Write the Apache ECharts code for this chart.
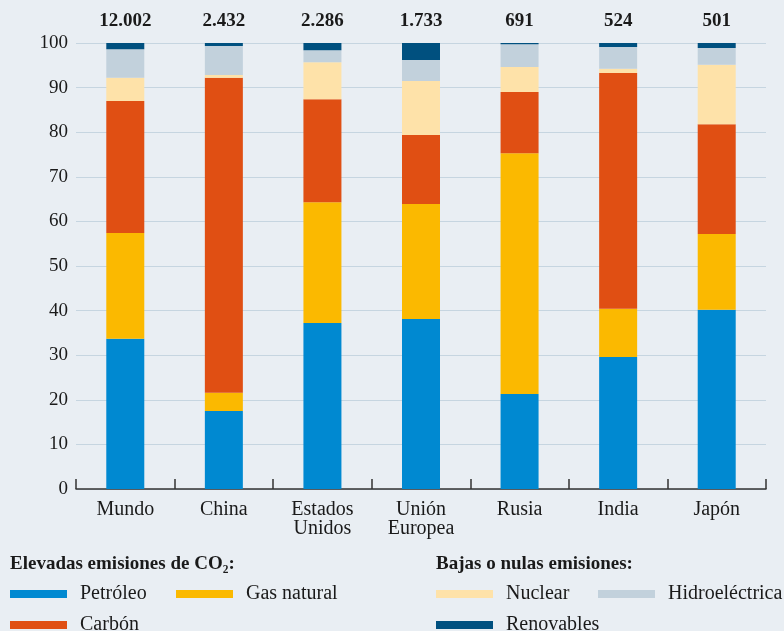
<!DOCTYPE html>
<html>
<head>
<meta charset="utf-8">
<script src="https://cdn.jsdelivr.net/npm/echarts@6/dist/echarts.min.js"></script>
<style>
html,body{margin:0;padding:0;background:#e9eef3;}
#chart{width:784px;height:631px;}
</style>
</head>
<body>
<div id="chart"></div>
<script>
const categories = ['Mundo', 'China', 'Estados\nUnidos', 'Unión\nEuropea', 'Rusia', 'India', 'Japón'];
const totals = ['12.002', '2.432', '2.286', '1.733', '691', '524', '501'];
const petroleo = [33.7, 17.5, 37.2, 38.1, 21.3, 29.6, 40.2];
const gasNatural = [23.7, 4.1, 27.1, 25.8, 54.0, 10.8, 17.0];
const carbon = [29.6, 70.6, 23.1, 15.5, 13.7, 52.9, 24.6];
const nuclear = [5.2, 0.6, 8.3, 12.1, 5.6, 0.9, 13.3];
const hidro = [6.4, 6.5, 2.7, 4.7, 5.1, 4.9, 3.8];
const renovables = [1.4, 0.7, 1.6, 3.8, 0.3, 0.9, 1.1];
const yTicks = [0, 10, 20, 30, 40, 50, 60, 70, 80, 90, 100];

const FONT = 'Liberation Serif';
const colors = {
  'Petróleo': '#0089d1',
  'Gas natural': '#fbb900',
  'Carbón': '#e04f13',
  'Nuclear': '#fee2a9',
  'Hidroeléctrica': '#c2d1dc',
  'Renovables': '#00507f'
};
const seriesDefs = [
  ['Petróleo', petroleo],
  ['Gas natural', gasNatural],
  ['Carbón', carbon],
  ['Nuclear', nuclear],
  ['Hidroeléctrica', hidro],
  ['Renovables', renovables]
];

const chart = echarts.init(document.getElementById('chart'), null, {renderer: 'canvas'});

const series = seriesDefs.map(([name, data], i) => {
  const s = {
    name: name,
    type: 'bar',
    stack: 'total',
    barWidth: 38,
    data: data,
    itemStyle: {color: colors[name]},
    emphasis: {disabled: true},
    animation: false
  };
  if (i === seriesDefs.length - 1) {
    s.label = {
      show: true,
      position: 'top',
      distance: 12,
      formatter: p => totals[p.dataIndex],
      fontFamily: FONT,
      fontWeight: 'bold',
      fontSize: 19,
      color: '#1a1a1a'
    };
  }
  return s;
});

function legendItem(name, left, top) {
  return {
    data: [name],
    left: left,
    top: top,
    orient: 'horizontal',
    padding: 0,
    icon: 'rect',
    itemWidth: 57,
    itemHeight: 8,
    selectedMode: false,
    textStyle: {
      fontFamily: FONT,
      fontSize: 20,
      color: '#1a1a1a',
      lineHeight: 20,
      padding: [0, 0, 0, 8]
    }
  };
}

const option = {
  backgroundColor: '#e9eef3',
  animation: false,
  textStyle: {fontFamily: FONT},
  title: [
    {
      text: 'Elevadas emisiones de CO₂:',
      left: 10, top: 555, padding: 0,
      textStyle: {fontFamily: FONT, fontWeight: 'bold', fontSize: 19, color: '#1a1a1a'}
    },
    {
      text: 'Bajas o nulas emisiones:',
      left: 436, top: 555, padding: 0,
      textStyle: {fontFamily: FONT, fontWeight: 'bold', fontSize: 19, color: '#1a1a1a'}
    }
  ],
  legend: [
    legendItem('Petróleo', 10, 584),
    legendItem('Gas natural', 176, 584),
    legendItem('Carbón', 10, 615),
    legendItem('Nuclear', 436, 584),
    legendItem('Hidroeléctrica', 598, 584),
    legendItem('Renovables', 436, 615)
  ],
  grid: {left: 76, right: 18, top: 43, bottom: 142, containLabel: false},
  xAxis: {
    type: 'category',
    data: categories,
    axisLine: {show: true, lineStyle: {color: '#333333', width: 1.5}},
    axisTick: {show: true, inside: true, length: 10, lineStyle: {color: '#333333', width: 1.5}},
    axisLabel: {fontFamily: FONT, fontSize: 20, color: '#1a1a1a', margin: 11, lineHeight: 19, interval: 0}
  },
  yAxis: {
    type: 'value',
    min: yTicks[0],
    max: yTicks[yTicks.length - 1],
    interval: yTicks[1] - yTicks[0],
    axisLine: {show: false},
    axisTick: {show: false},
    axisLabel: {fontFamily: FONT, fontSize: 19, color: '#1a1a1a', margin: 8},
    splitLine: {show: true, lineStyle: {color: '#c6d5e0', width: 1.2}}
  },
  series: series
};
chart.setOption(option);
</script>
</body>
</html>
